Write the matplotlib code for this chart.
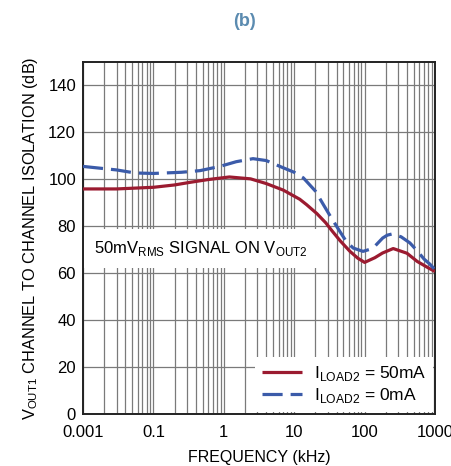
import matplotlib
matplotlib.use("Agg")
from matplotlib import pyplot as plt
from matplotlib.ticker import FixedLocator, NullFormatter

plt.rcParams['font.family'] = ['Liberation Sans', 'DejaVu Sans']
plt.rcParams['mathtext.fontset'] = 'custom'
plt.rcParams['mathtext.rm'] = 'Liberation Sans'

# isolation curves, frequency in kHz
freq_50ma = [0.01, 0.03, 0.1, 0.2, 0.33, 0.6, 1.2, 2.4, 4, 7, 12, 15, 21,
             28, 35, 45, 62, 80, 100, 140, 180, 255, 400, 560, 800, 1000]
iso_50ma = [95.9, 95.9, 96.6, 97.6, 98.7, 99.9, 101.0, 100.2, 98.2, 95.4,
            91.5, 89.2, 85.4, 81.5, 77.8, 73.8, 69.3, 66.4, 64.6, 66.6,
            68.6, 70.5, 68.5, 65.0, 62.3, 60.7]

freq_0ma = [0.01, 0.03, 0.055, 0.1, 0.25, 0.46, 0.88, 1.5, 2.6, 4, 7, 10,
            13.5, 20, 26, 33, 44.5, 55, 69, 95, 120, 140, 181, 210, 245, 330,
            440, 560, 700, 850, 1000]
iso_0ma = [105.5, 104.0, 102.7, 102.5, 103.0, 103.7, 105.5, 107.5, 108.8,
           108.0, 104.9, 103.0, 100.6, 95.0, 89.2, 84.0, 77.8, 73.5, 70.7,
           69.3, 70.2, 71.5, 75.0, 76.2, 76.7, 75.5, 72.9, 69.5, 66.0, 63.8,
           61.5]

x_ticks = [0.01, 0.1, 1, 10, 100, 1000]
x_tick_labels = ['0.001', '0.1', '1', '10', '100', '1000']
y_ticks = [0, 20, 40, 60, 80, 100, 120, 140]

RED = '#9b1b30'
BLUE = '#3b5ba9'


def main():
    fig = plt.figure(figsize=(4.51, 4.66), dpi=100)
    ax = fig.add_axes([0.184, 0.1116, 0.7805, 0.7554])

    ax.set_xscale('log')
    ax.set_xlim(0.01, 1000)
    ax.set_ylim(0, 150)

    ax.set_xticks(x_ticks)
    ax.set_xticklabels(x_tick_labels)
    minors = [m * 10.0 ** d for d in range(-2, 3) for m in range(2, 10)]
    ax.xaxis.set_minor_locator(FixedLocator(minors))
    ax.xaxis.set_minor_formatter(NullFormatter())
    ax.set_yticks(y_ticks)

    ax.grid(True, which='both', axis='x', color='#7a7a7a', lw=0.9)
    ax.grid(True, which='major', axis='y', color='#7a7a7a', lw=0.9)
    ax.tick_params(which='both', length=0, labelsize=12)
    ax.tick_params(axis='x', pad=8)
    ax.tick_params(axis='y', pad=5)
    for s in ax.spines.values():
        s.set_linewidth(1.4)
        s.set_color('#222222')

    ax.plot(freq_50ma, iso_50ma, color=RED, lw=2.3, solid_capstyle='butt',
            label=r'I$_{\mathregular{LOAD2}}$ = 50mA', zorder=3)
    ax.plot(freq_0ma, iso_0ma, color=BLUE, lw=2.3, dashes=(6.3, 2.5),
            label=r'I$_{\mathregular{LOAD2}}$ = 0mA', zorder=3)

    ax.text(0.0143, 70.5, r'50mV$_{\mathregular{RMS}}$ SIGNAL ON V$_{\mathregular{OUT2}}$',
            fontsize=12, va='center', ha='left', zorder=4,
            bbox=dict(facecolor='white', edgecolor='none', pad=7))

    leg = ax.legend(loc='lower right', fontsize=12.5, frameon=True, fancybox=False,
                    borderaxespad=0.1, handlelength=2.3, handletextpad=0.7,
                    labelspacing=0.2, borderpad=0.4)
    leg.get_frame().set_edgecolor('none')
    leg.get_frame().set_alpha(1)

    ax.set_xlabel('FREQUENCY (kHz)', fontsize=11.5, labelpad=7)
    ax.set_ylabel(r'V$_{\mathregular{OUT1}}$ CHANNEL TO CHANNEL ISOLATION (dB)',
                  fontsize=11.8, labelpad=6)

    fig.text(0.543, 0.953, '(b)', color='#5b8bb0', fontsize=13,
             fontweight='bold', ha='center', va='center')

    fig.savefig('out.png', dpi=100)


if __name__ == '__main__':
    main()
